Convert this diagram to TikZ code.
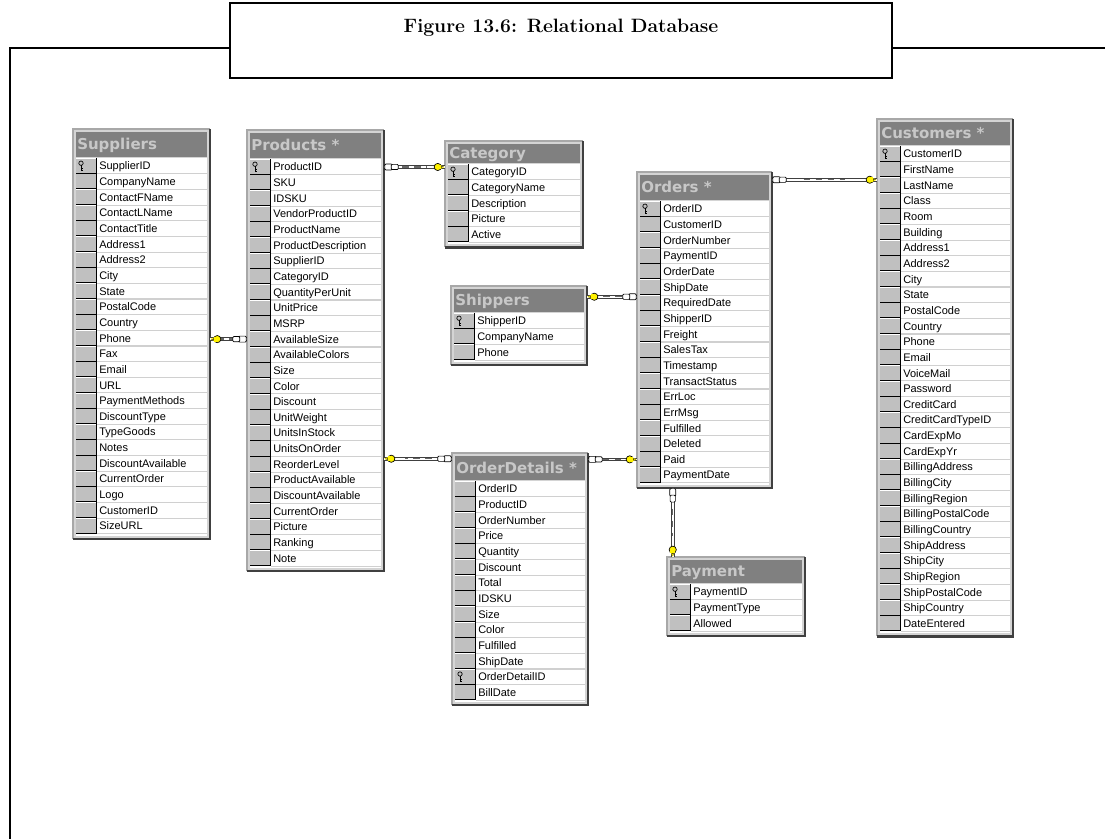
\documentclass[tikz,border=0pt]{standalone}
\usepackage{fontspec}
\newfontfamily\tblfont{Liberation Sans}
\newfontfamily\hdrfont{DejaVu Sans}
\usetikzlibrary{calc,fit}

\definecolor{hdrgray}{HTML}{808080}
\definecolor{hdrtext}{HTML}{C8C8C8}
\definecolor{framegray}{HTML}{D4D4D4}
\definecolor{keygray}{HTML}{C0C0C0}
\definecolor{sepgray}{HTML}{D0D0D0}
\definecolor{edgedark}{HTML}{404040}
\definecolor{edgelight}{HTML}{A8A8A8}
\definecolor{keyyellow}{HTML}{FFF200}

\newcommand\rowh{15.65}

\tikzset{
  rowtext/.style={anchor=base west, inner sep=0pt, text=black,
    font=\tblfont\fontsize{8.25}{9}\selectfont},
  tbltitle/.style={anchor=base west, inner sep=0pt, text=hdrtext,
    font=\hdrfont\bfseries\fontsize{11.25}{12}\selectfont},
  titletext/.style={inner sep=0pt, font=\bfseries\fontsize{14.5}{16}\selectfont},
  frameline/.style={line width=2pt, black},
  relouter/.style={line width=2.7pt, edgedark},
  relinner/.style={line width=1.3pt, white},
  reldash/.style={line width=1.1pt, black!60, dash pattern=on 5pt off 4pt},
  % primary-key glyph inside the key column
  pkey/.pic={
    \draw[black, line width=0.5pt] (0,-2.8) circle (2.2);
    \draw[black, line width=0.5pt] (0,-0.6) -- (0,4.5) (0,2.6) -- (1.6,2.6) (0,4.3) -- (1.6,4.3);
  },
  % "many" end of a relationship: two chain links starting at the origin
  pchain/.pic={
    \draw[black, fill=white, line width=0.5pt, rounded corners=0.8pt] (0.5,-3) rectangle (8,3);
    \draw[black, fill=white, line width=0.5pt, rounded corners=0.8pt] (7,-2.6) rectangle (14,2.6);
  },
  % "one" end of a relationship: yellow key whose tip sits at the origin
  pkeyend/.pic={
    \fill[keyyellow] (-5,-2.2) -- (0,0) -- (-5,2.2) -- cycle;
    \draw[black, line width=0.5pt, fill=keyyellow] (-7,0) circle (3.6);
    \fill[keyyellow] (-7,-2.4) rectangle (-4,2.4);
    \draw[black!70, line width=0.4pt] (-3.5,-0.8) -- (-1,0);
  },
}

% \dbtable{name}{left}{right}{top}{first row y}{title}{key row}{fields}
\newcommand\dbtable[8]{%
  \foreach \fld [count=\cnt] in {#8} {\xdef\tbN{\cnt}}%
  \pgfmathsetmacro\tbHB{#5-\rowh/2-1.5}%
  \pgfmathsetmacro\tbRB{#5+(\tbN-0.5)*\rowh}%
  \pgfmathsetmacro\tbB{\tbRB+5}%
  \fill[framegray] (#2,#4) rectangle (#3,\tbB);
  \draw[edgelight, line width=0.8pt] (#2,\tbB) -- (#2,#4) -- (#3,#4);
  \draw[edgedark, line width=1.8pt] (#3,#4) -- (#3,\tbB) -- (#2,\tbB);
  \fill[hdrgray] (#2+3,#4+3) rectangle (#3-3,\tbHB);
  \pgfmathsetmacro\tbHC{(#4+3+\tbHB)/2+5.6}%
  \node[tbltitle] (#1-title) at (#2+4,\tbHC) {#6};
  \fill[white] (#2+3,#5-\rowh/2) rectangle (#3-3,\tbB-3);
  \foreach \fld [count=\cnt] in {#8} {
    \pgfmathsetmacro\yc{#5+(\cnt-1)*\rowh}
    \fill[keygray] (#2+3,\yc-\rowh/2+0.6) rectangle (#2+23,\yc+\rowh/2-0.6);
    \draw[black, line width=0.6pt] (#2+3,\yc+\rowh/2-0.6) -- (#2+23,\yc+\rowh/2-0.6);
    \draw[sepgray, line width=0.8pt] (#2+24,\yc+\rowh/2) -- (#3-3,\yc+\rowh/2);
    \node[rowtext] (#1-\cnt) at (#2+26,\yc+3.9) {\fld};
  }
  \draw[black, line width=0.6pt] (#2+23.5,#5-\rowh/2) -- (#2+23.5,\tbRB);
  \pgfmathsetmacro\yk{#5+(#7-1)*\rowh}%
  \pic at (#2+8,\yk) {pkey};
  \node[fit={(#2,#4) (#3,\tbB)}, inner sep=0pt] (#1) {};
}

% \relation{many end}{one end}{direction angle}
\newcommand\relation[3]{%
  \draw[relouter] #1 -- #2;
  \draw[relinner] #1 -- #2;
  \draw[reldash] ($#1!0.3!#2$) -- ($#1!0.7!#2$);
  \pic[rotate=#3] at #1 {pchain};
  \pic[rotate=#3] at #2 {pkeyend};
}

\begin{document}
\begin{tikzpicture}[x=0.75pt, y=-0.75pt]
  \fill[white] (0,0) rectangle (1105,839);
  \useasboundingbox (0,0) rectangle (1105,839);

  % title box and page frame
  \node[draw, line width=1.6pt, minimum width=496.5pt, minimum height=56.25pt, inner sep=0pt]
    (titlebox) at (561,40.5) {};
  \node[titletext] (title) at (561,28) {Figure 13.6: Relational Database};
  \coordinate (frameL) at (10,48);
  \coordinate (frameB) at (10,839);
  \coordinate (frameR) at (1105,48);
  \draw[frameline] (titlebox.west |- frameL) -- (frameL) -- (frameB);
  \draw[frameline] (titlebox.east |- frameR) -- (frameR);

  % tables
  \dbtable{suppliers}{73}{210}{129}{166}{Suppliers}{1}{SupplierID,CompanyName,ContactFName,ContactLName,ContactTitle,Address1,Address2,City,State,PostalCode,Country,Phone,Fax,Email,URL,PaymentMethods,DiscountType,TypeGoods,Notes,DiscountAvailable,CurrentOrder,Logo,CustomerID,SizeURL}
  \dbtable{products}{247}{384}{130}{167}{Products *}{1}{ProductID,SKU,IDSKU,VendorProductID,ProductName,ProductDescription,SupplierID,CategoryID,QuantityPerUnit,UnitPrice,MSRP,AvailableSize,AvailableColors,Size,Color,Discount,UnitWeight,UnitsInStock,UnitsOnOrder,ReorderLevel,ProductAvailable,DiscountAvailable,CurrentOrder,Picture,Ranking,Note}
  \dbtable{category}{445}{583}{141}{172}{Category}{1}{CategoryID,CategoryName,Description,Picture,Active}
  \dbtable{orders}{637}{772}{172}{209}{Orders *}{1}{OrderID,CustomerID,OrderNumber,PaymentID,OrderDate,ShipDate,RequiredDate,ShipperID,Freight,SalesTax,Timestamp,TransactStatus,ErrLoc,ErrMsg,Fulfilled,Deleted,Paid,PaymentDate}
  \dbtable{shippers}{451}{587}{286}{321}{Shippers}{1}{ShipperID,CompanyName,Phone}
  \dbtable{orderdetails}{452}{588}{453}{489}{OrderDetails *}{13}{OrderID,ProductID,OrderNumber,Price,Quantity,Discount,Total,IDSKU,Size,Color,Fulfilled,ShipDate,OrderDetailID,BillDate}
  \dbtable{payment}{667}{805}{557}{592}{Payment}{1}{PaymentID,PaymentType,Allowed}
  \dbtable{customers}{877}{1013}{119}{154}{Customers *}{1}{CustomerID,FirstName,LastName,Class,Room,Building,Address1,Address2,City,State,PostalCode,Country,Phone,Email,VoiceMail,Password,CreditCard,CreditCardTypeID,CardExpMo,CardExpYr,BillingAddress,BillingCity,BillingRegion,BillingPostalCode,BillingCountry,ShipAddress,ShipCity,ShipRegion,ShipPostalCode,ShipCountry,DateEntered}

  % relationship end points
  \coordinate (prodcatA) at (products.east |- products-1);
  \coordinate (prodcatB) at (category.west |- products-1);
  \coordinate (supprodA) at (products.west |- products-12);
  \coordinate (supprodB) at (suppliers.east |- products-12);
  \coordinate (odprodA) at ($(orderdetails.north west)+(0,6)$);
  \coordinate (odprodB) at (products.east |- odprodA);
  \coordinate (odordA) at (orderdetails.east |- orders-17);
  \coordinate (odordB) at (orders.west |- orders-17);
  \coordinate (shipordB) at ($(shippers.north east)+(0,11)$);
  \coordinate (shipordA) at (orders.west |- shipordB);
  \coordinate (custordA) at ($(orders.north east)+(0,8)$);
  \coordinate (custordB) at (customers.west |- custordA);
  \coordinate (payordA) at ($(orders.south west)+(36,0)$);
  \coordinate (payordB) at (payment.north -| payordA);

  % relationships
  \relation{(prodcatA)}{(prodcatB)}{0}
  \relation{(supprodA)}{(supprodB)}{180}
  \relation{(odprodA)}{(odprodB)}{180}
  \relation{(odordA)}{(odordB)}{0}
  \relation{(shipordA)}{(shipordB)}{180}
  \relation{(custordA)}{(custordB)}{0}
  \relation{(payordA)}{(payordB)}{-90}
\end{tikzpicture}
\end{document}
